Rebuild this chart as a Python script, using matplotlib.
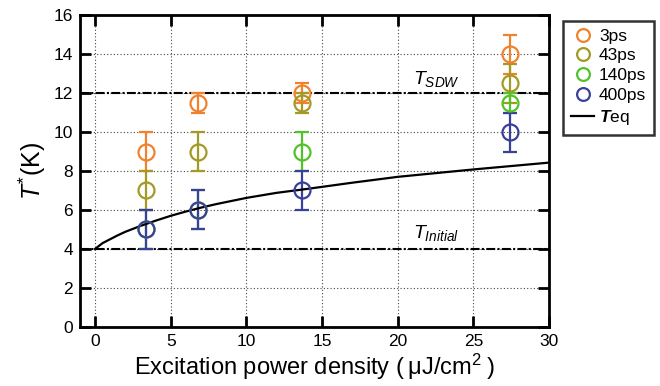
import numpy as np
import matplotlib.pyplot as plt

plt.rcParams['font.family'] = ['Liberation Sans', 'DejaVu Sans']
plt.rcParams['mathtext.fontset'] = 'custom'
plt.rcParams['mathtext.rm'] = 'Liberation Sans'
plt.rcParams['mathtext.it'] = 'Liberation Sans:italic'
plt.rcParams['mathtext.bf'] = 'Liberation Sans:bold:italic'

# %% data
power = [3.4, 6.8, 13.7, 27.4]
labels = ['3ps', '43ps', '140ps', '400ps']
t_vals = [
    [9.0, 11.5, 12.0, 14.0],
    [7.0, 9.0, 11.5, 12.5],
    [5.0, 6.0, 9.0, 11.5],
    [5.0, 6.0, 7.0, 10.0],
]
t_errs = [
    [1.0, 0.5, 0.5, 1.0],
    [1.0, 1.0, 0.5, 1.0],
    [1.0, 1.0, 1.0, 0.5],
    [1.0, 1.0, 1.0, 1.0],
]
colors = ['#f0822e', '#a39a25', '#52c22a', '#3a3f9c']

teq_x = [0, 0.5, 1, 1.5, 2, 3, 4, 5, 6, 7, 8, 10, 12, 14, 17, 20, 25, 30]
teq_y = [4.0, 4.3, 4.5, 4.7, 4.88, 5.18, 5.45, 5.7, 5.92, 6.12, 6.3,
         6.62, 6.88, 7.08, 7.4, 7.7, 8.08, 8.43]

t_sdw = 12
t_init = 4

# %% plot
fig = plt.figure(figsize=(6.6, 3.86), dpi=100)
ax = fig.add_axes([0.121, 0.153, 0.711, 0.808])

ax.grid(True, linestyle=(0, (1, 2)), color='#444444', linewidth=0.8)
ax.set_axisbelow(True)

dashdot = (0, (4.3, 1.1, 1.0, 1.1))
ax.plot([-1, 30], [t_sdw, t_sdw], color='k', lw=1.5, linestyle=dashdot, zorder=2)
ax.plot([-1, 30], [t_init, t_init], color='k', lw=1.5, linestyle=dashdot, zorder=2)

handles = []
for vals, errs, c, lab in zip(t_vals, t_errs, colors, labels):
    ax.errorbar(power, vals, yerr=errs, fmt='none', ecolor=c, elinewidth=1.6,
                capsize=5, capthick=1.6, zorder=3)
    h, = ax.plot(power, vals, 'o', mfc='none', mec=c, ms=11.5, mew=1.6,
                 label=lab, zorder=4)
    handles.append(h)

h_eq, = ax.plot(teq_x, teq_y, color='k', lw=1.6, label=r'$\mathbf{T}$eq', zorder=3)
handles.append(h_eq)

ax.text(21.0, 12.45, r'$T_{SDW}$', fontsize=14)
ax.text(21.0, 4.55, r'$T_{Initial}$', fontsize=14)

ax.set_xlim(-1, 30)
ax.set_ylim(0, 16)
ax.set_xticks(np.arange(0, 31, 5))
ax.set_yticks(np.arange(0, 17, 2))
ax.tick_params(direction='in', length=8, width=2, labelsize=12.5,
               top=True, right=True, pad=5)
for sp in ax.spines.values():
    sp.set_linewidth(2)

ax.set_xlabel('Excitation power density (\u2009\u03bcJ/cm$^2$\u2009)', fontsize=17, labelpad=2)
ax.set_ylabel(r'$T^{*}$(K)', fontsize=18, labelpad=4)

leg = ax.legend(handles=handles, loc='upper left', bbox_to_anchor=(1.012, 1.01),
                fontsize=12.5, frameon=True, fancybox=False, edgecolor='k',
                handlelength=1.3, handletextpad=0.3, borderpad=0.45,
                labelspacing=0.27, markerscale=0.8)
leg.get_frame().set_linewidth(1.8)

fig.savefig('out.png', dpi=100)
